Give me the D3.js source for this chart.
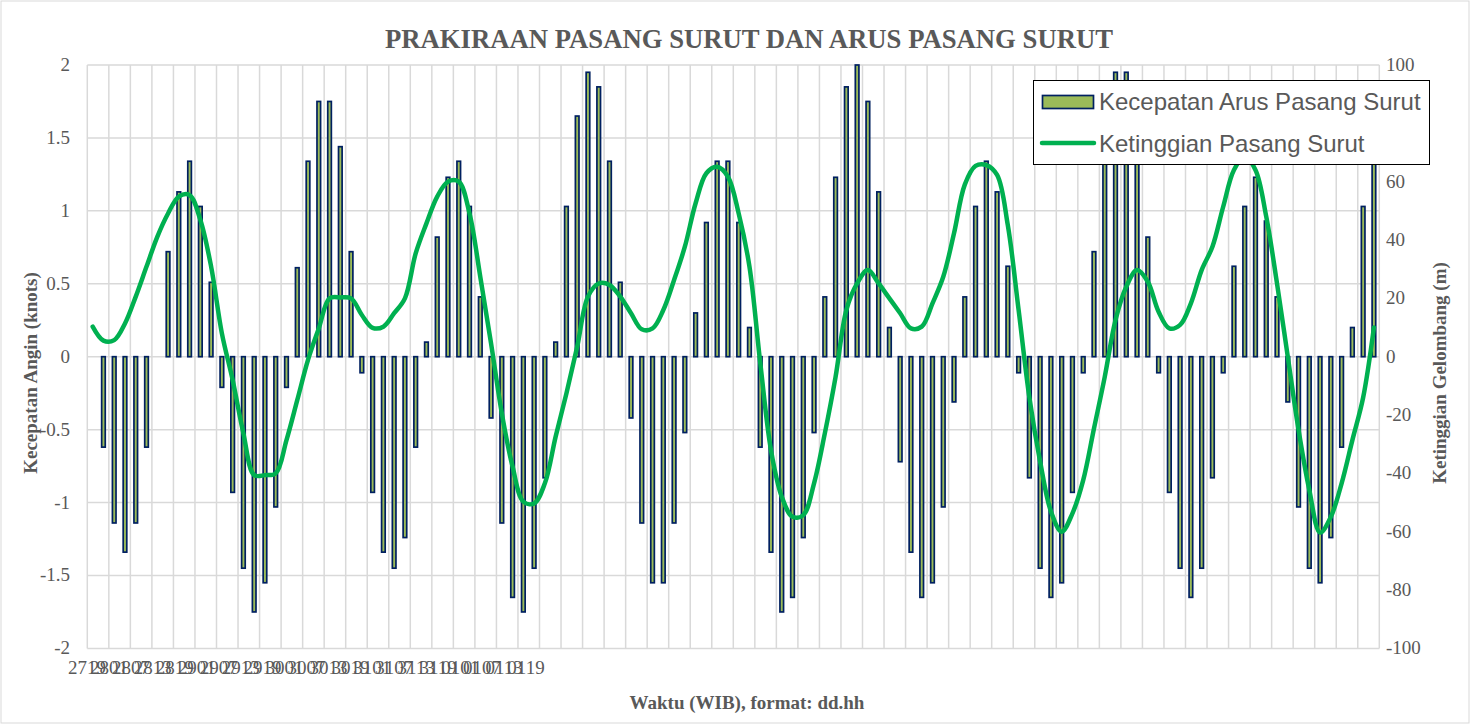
<!DOCTYPE html>
<meta charset="utf-8" />
<html>
<style>
  body { margin: 0; background: #fff; }
  text { font-family: "Liberation Serif", "Times New Roman", serif; fill: #595959; }
  .legend text { font-family: "Liberation Sans", Arial, sans-serif; }
</style>
<body>
<svg width="1471" height="725"></svg>
<script src="https://cdn.jsdelivr.net/npm/d3@7"></script>
<script>
// kecepatan arus pasang surut (knots), one value per hour
var arus = [
  0, -0.62, -1.14, -1.34, -1.14, -0.62, 0, 0.72, 1.13, 1.34,
  1.03, 0.51, -0.21, -0.93, -1.45, -1.75, -1.55, -1.03, -0.21, 0.61,
  1.34, 1.75, 1.75, 1.44, 0.72, -0.11, -0.93, -1.34, -1.45, -1.24,
  -0.62, 0.10, 0.82, 1.23, 1.34, 1.03, 0.41, -0.42, -1.14, -1.65,
  -1.75, -1.45, -0.83, 0.10, 1.03, 1.65, 1.95, 1.85, 1.34, 0.51,
  -0.42, -1.14, -1.55, -1.55, -1.14, -0.52, 0.30, 0.92, 1.34, 1.34,
  0.92, 0.20, -0.62, -1.34, -1.75, -1.65, -1.24, -0.52, 0.41, 1.23,
  1.85, 2.00, 1.75, 1.13, 0.20, -0.72, -1.34, -1.65, -1.55, -1.03,
  -0.31, 0.41, 1.03, 1.34, 1.13, 0.62, -0.11, -0.83, -1.45, -1.65,
  -1.55, -0.93, -0.11, 0.72, 1.65, 1.95, 1.95, 1.55, 0.82, -0.11,
  -0.93, -1.45, -1.65, -1.45, -0.83, -0.11, 0.62, 1.03, 1.23, 0.93,
  0.41, -0.31, -1.03, -1.45, -1.55, -1.24, -0.62, 0.20, 1.03, 1.44
];

// ketinggian pasang surut, one value per hour
var tinggi = [
  10.3, 5.5, 5.7, 11.4, 20.6, 30.9, 41.1, 49.1, 54.9, 55.4,
  46.9, 30.9, 8.0, -8.0, -26.3, -40.6, -40.6, -40.0, -28.6, -14.9,
  -1.1, 9.7, 20.0, 20.3, 20.0, 14.3, 9.9, 10.3, 14.9, 20.0,
  35.4, 45.7, 54.9, 60.0, 60.0, 49.1, 27.4, 4.6, -19.4, -37.7,
  -49.7, -50.3, -43.4, -27.4, -12.6, 3.4, 20.6, 25.1, 24.6, 20.6,
  14.9, 9.4, 9.7, 16.0, 26.3, 37.7, 52.6, 62.9, 65.1, 61.7,
  49.1, 30.9, -2.0, -32.0, -48.0, -54.9, -54.3, -43.4, -26.3, -6.9,
  16.0, 25.1, 29.7, 25.1, 20.0, 14.9, 9.7, 10.3, 18.3, 27.4,
  42.3, 59.0, 65.4, 65.7, 62.3, 45.0, 16.0, -14.0, -36.0, -53.0,
  -60.0, -53.7, -42.3, -24.6, -6.9, 12.6, 24.0, 29.7, 25.7, 15.4,
  9.7, 10.9, 18.3, 29.7, 37.7, 51.4, 64.0, 68.6, 64.0, 48.0,
  25.1, 0.0, -25.1, -45.7, -60.3, -54.9, -43.4, -28.6, -14.0, 10.0
];

// category labels (dd.hh), every 6 hours
var hariLabels = ["27", "28", "28", "28", "28", "29", "29", "29", "29", "30", "30",
                  "30", "30", "31", "31", "31", "31", "01", "01", "01", "01"];
var jamLabels  = ["19", "01", "07", "13", "19", "01", "07", "13", "19", "01", "07",
                  "13", "19", "01", "07", "13", "19", "01", "07", "13", "19"];

var leftTicks = [-2, -1.5, -1, -0.5, 0, 0.5, 1, 1.5, 2];
var rightTicks = [-100, -80, -60, -40, -20, 0, 20, 40, 60, 80, 100];

var svg = d3.select("svg"),
    width = +svg.attr("width"),
    height = +svg.attr("height");

var plot = { left: 87.3, right: 1379.3, top: 65, bottom: 648.4 };

// chart border
svg.append("rect")
  .attr("x", 1).attr("y", 1)
  .attr("width", width - 3).attr("height", height - 3)
  .attr("fill", "none")
  .attr("stroke", "#d9d9d9")
  .attr("stroke-width", 1);

var x = d3.scaleBand()
  .domain(d3.range(arus.length))
  .range([plot.left, plot.right])
  .paddingInner(0);

// the category labels are squeezed into the left part of the axis
var xLab = d3.scalePoint()
  .domain(d3.range(hariLabels.length))
  .range([87, 526]);

var yL = d3.scaleLinear().domain([-2, 2]).range([plot.bottom, plot.top]);
var yR = d3.scaleLinear().domain([-100, 100]).range([plot.bottom, plot.top]);

// gridlines
var grid = svg.append("g").attr("class", "grid");
grid.selectAll("line.h")
  .data(leftTicks)
  .enter().append("line")
  .attr("class", "h")
  .attr("x1", plot.left).attr("x2", plot.right)
  .attr("y1", function (d) { return yL(d); })
  .attr("y2", function (d) { return yL(d); })
  .attr("stroke", "#d9d9d9").attr("stroke-width", 1.5);

var vIdx = d3.range(0, arus.length + 1, 2);
grid.selectAll("line.v")
  .data(vIdx)
  .enter().append("line")
  .attr("class", "v")
  .attr("x1", function (d) { return d < arus.length ? x(d) : plot.right; })
  .attr("x2", function (d) { return d < arus.length ? x(d) : plot.right; })
  .attr("y1", plot.top).attr("y2", plot.bottom)
  .attr("stroke", "#d9d9d9").attr("stroke-width", 1.5);

// bars
var bw = 3.6;
svg.append("g")
  .selectAll("rect")
  .data(arus)
  .enter().append("rect")
  .attr("x", function (d, i) { return x(i) + x.bandwidth() / 2 - bw / 2; })
  .attr("y", function (d) { return yL(Math.max(0, d)); })
  .attr("width", bw)
  .attr("height", function (d) { return Math.abs(yL(d) - yL(0)); })
  .attr("fill", "#9bbb59")
  .attr("stroke", "#002060")
  .attr("stroke-width", 1.7);

// tide height line (smoothed)
var line = d3.line()
  .x(function (d, i) { return x(i) + x.bandwidth() / 2; })
  .y(function (d) { return yR(d); })
  .curve(d3.curveCatmullRom.alpha(0.5));

svg.append("path")
  .datum(tinggi)
  .attr("d", line)
  .attr("fill", "none")
  .attr("stroke", "#00b050")
  .attr("stroke-width", 4.5)
  .attr("stroke-linecap", "round")
  .attr("stroke-linejoin", "round");

// left axis labels
svg.append("g")
  .selectAll("text")
  .data(leftTicks)
  .enter().append("text")
  .attr("x", 70)
  .attr("y", function (d) { return yL(d) + 6; })
  .attr("text-anchor", "end")
  .attr("font-size", "19px")
  .text(function (d) { return d; });

// right axis labels
svg.append("g")
  .selectAll("text")
  .data(rightTicks)
  .enter().append("text")
  .attr("x", 1386)
  .attr("y", function (d) { return yR(d) + 6; })
  .attr("font-size", "19px")
  .text(function (d) { return d; });

// category labels (they overlap, as in the original)
svg.append("g")
  .selectAll("text")
  .data(hariLabels)
  .enter().append("text")
  .attr("x", function (d, j) { return xLab(j); })
  .attr("y", 674)
  .attr("text-anchor", "middle")
  .attr("font-size", "19px")
  .text(function (d, j) { return d + jamLabels[j]; });

// titles
svg.append("text")
  .attr("x", 749).attr("y", 48)
  .attr("text-anchor", "middle")
  .attr("font-size", "26.7px")
  .attr("font-weight", "bold")
  .text("PRAKIRAAN PASANG SURUT DAN ARUS PASANG SURUT");

svg.append("text")
  .attr("x", 747).attr("y", 709)
  .attr("text-anchor", "middle")
  .attr("font-size", "19px")
  .attr("font-weight", "bold")
  .text("Waktu (WIB), format: dd.hh");

svg.append("text")
  .attr("transform", "translate(37,373) rotate(-90)")
  .attr("text-anchor", "middle")
  .attr("font-size", "19px")
  .attr("font-weight", "bold")
  .text("Kecepatan Angin (knots)");

svg.append("text")
  .attr("transform", "translate(1446,373) rotate(-90)")
  .attr("text-anchor", "middle")
  .attr("font-size", "19px")
  .attr("font-weight", "bold")
  .text("Ketinggian Gelombang (m)");

// legend
var lg = svg.append("g").attr("class", "legend");
lg.append("rect")
  .attr("x", 1033.5).attr("y", 80.5)
  .attr("width", 396).attr("height", 84)
  .attr("fill", "#fff")
  .attr("stroke", "#000")
  .attr("stroke-width", 1);
lg.append("rect")
  .attr("x", 1042.5).attr("y", 95.5)
  .attr("width", 51).attr("height", 13)
  .attr("fill", "#9bbb59")
  .attr("stroke", "#002060")
  .attr("stroke-width", 1.7);
lg.append("text")
  .attr("x", 1099).attr("y", 110)
  .attr("font-size", "24px")
  .text("Kecepatan Arus Pasang Surut");
lg.append("line")
  .attr("x1", 1042).attr("x2", 1094)
  .attr("y1", 143).attr("y2", 143)
  .attr("stroke", "#00b050")
  .attr("stroke-width", 4.5)
  .attr("stroke-linecap", "round");
lg.append("text")
  .attr("x", 1099).attr("y", 152)
  .attr("font-size", "24px")
  .text("Ketinggian Pasang Surut");
</script>
</body>
</html>
